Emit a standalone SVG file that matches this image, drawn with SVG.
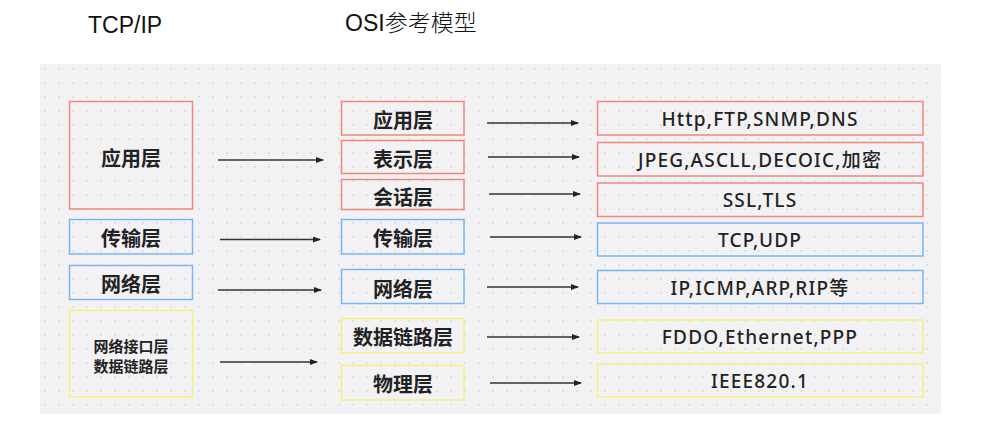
<svg xmlns="http://www.w3.org/2000/svg" width="1001" height="441" viewBox="0 0 1001 441">
  <defs>
    <pattern id="dots" x="40" y="64" width="14" height="14" patternUnits="userSpaceOnUse">
      <circle cx="5" cy="5" r="0.8" fill="#c9c9cf"/>
    </pattern>
    <marker id="arrow" viewBox="0 0 8 6" refX="7" refY="3" markerWidth="8" markerHeight="6" markerUnits="userSpaceOnUse" orient="auto">
      <path d="M0,0 L8,3 L0,6 Z" fill="#222"/>
    </marker>
  </defs>
  <style>
    .hdr { font-family: "Liberation Sans", "Noto Sans CJK SC", sans-serif; font-size: 23px; fill: #111; }
    .box { fill: none; stroke-width: 1.5; }
    .red { stroke: #f0877a; }
    .blue { stroke: #7ab6ee; }
    .yellow { stroke: #f7ee7c; }
    .lbl { font-family: "Noto Sans CJK SC", sans-serif; font-weight: 700; font-size: 20px; fill: #222; text-anchor: middle; dominant-baseline: central; }
    .small { font-size: 15px; }
    .proto { font-family: "Noto Sans", "Noto Sans CJK SC", sans-serif; font-weight: 500; font-size: 19px; letter-spacing: 1.2px; fill: #222; text-anchor: middle; dominant-baseline: central; }
    .conn line { stroke: #333; stroke-width: 1.4; marker-end: url(#arrow); }
  </style>

  <rect width="1001" height="441" fill="#ffffff"/>
  <!-- dotted canvas -->
  <rect x="40" y="64" width="901" height="350" fill="#f2f2f4"/>
  <rect x="40" y="64" width="901" height="350" fill="url(#dots)"/>

  <!-- column headers -->
  <text class="hdr" x="88" y="33">TCP/IP</text>
  <text class="hdr" x="345" y="31">OSI<tspan font-family="'Noto Sans CJK SC', sans-serif" font-weight="300">参考模型</tspan></text>

  <!-- TCP/IP model -->
  <g id="tcp-app">
    <rect class="box red" x="69.5" y="101.5" width="123" height="107.5"/>
    <text class="lbl" x="131" y="157">应用层</text>
  </g>
  <g id="tcp-transport">
    <rect class="box blue" x="69.5" y="219.5" width="123" height="34.5"/>
    <text class="lbl" x="131" y="237">传输层</text>
  </g>
  <g id="tcp-network">
    <rect class="box blue" x="69.5" y="265.5" width="123" height="34"/>
    <text class="lbl" x="131" y="283">网络层</text>
  </g>
  <g id="tcp-link">
    <rect class="box yellow" x="69.5" y="310.5" width="123" height="86.5"/>
    <text class="lbl small" x="131" y="345.5">网络接口层</text>
    <text class="lbl small" x="131" y="365.5">数据链路层</text>
  </g>

  <!-- OSI model -->
  <g id="osi-app">
    <rect class="box red" x="341.5" y="101.5" width="122.5" height="33.5"/>
    <text class="lbl" x="403" y="119">应用层</text>
  </g>
  <g id="osi-presentation">
    <rect class="box red" x="341.5" y="140.5" width="122.5" height="33"/>
    <text class="lbl" x="403" y="158">表示层</text>
  </g>
  <g id="osi-session">
    <rect class="box red" x="341.5" y="179.5" width="122.5" height="30"/>
    <text class="lbl" x="403" y="196">会话层</text>
  </g>
  <g id="osi-transport">
    <rect class="box blue" x="341.5" y="219.5" width="122.5" height="34.5"/>
    <text class="lbl" x="403" y="237">传输层</text>
  </g>
  <g id="osi-network">
    <rect class="box blue" x="341.5" y="269.5" width="122.5" height="34"/>
    <text class="lbl" x="403" y="288">网络层</text>
  </g>
  <g id="osi-datalink">
    <rect class="box yellow" x="341.5" y="318.5" width="122.5" height="34.5"/>
    <text class="lbl" x="403" y="336">数据链路层</text>
  </g>
  <g id="osi-physical">
    <rect class="box yellow" x="341.5" y="365.5" width="122.5" height="34.5"/>
    <text class="lbl" x="403" y="383">物理层</text>
  </g>

  <!-- protocols -->
  <g id="proto-app">
    <rect class="box red" x="597.5" y="101.5" width="325.5" height="33.5"/>
    <text class="proto" x="760" y="119">Http,FTP,SNMP,DNS</text>
  </g>
  <g id="proto-presentation">
    <rect class="box red" x="597.5" y="142.5" width="325.5" height="33.5"/>
    <text class="proto" x="760" y="160">JPEG,ASCLL,DECOIC,加密</text>
  </g>
  <g id="proto-session">
    <rect class="box red" x="597.5" y="183" width="325.5" height="33.5"/>
    <text class="proto" x="760" y="200">SSL,TLS</text>
  </g>
  <g id="proto-transport">
    <rect class="box blue" x="597.5" y="223" width="325.5" height="33"/>
    <text class="proto" x="760" y="240">TCP,UDP</text>
  </g>
  <g id="proto-network">
    <rect class="box blue" x="597.5" y="270.5" width="325.5" height="33"/>
    <text class="proto" x="760" y="288">IP,ICMP,ARP,RIP等</text>
  </g>
  <g id="proto-datalink">
    <rect class="box yellow" x="597.5" y="320" width="325.5" height="33"/>
    <text class="proto" x="760" y="337">FDDO,Ethernet,PPP</text>
  </g>
  <g id="proto-physical">
    <rect class="box yellow" x="597.5" y="364" width="325.5" height="33"/>
    <text class="proto" x="760" y="381">IEEE820.1</text>
  </g>

  <!-- connectors -->
  <g class="conn">
    <line x1="218" y1="160" x2="323" y2="160"/>
    <line x1="220" y1="239.5" x2="320" y2="239.5"/>
    <line x1="218" y1="290" x2="321" y2="290"/>
    <line x1="220" y1="362" x2="317" y2="362"/>
    <line x1="487" y1="123" x2="578" y2="123"/>
    <line x1="488" y1="157" x2="579" y2="157"/>
    <line x1="489" y1="194" x2="580" y2="194"/>
    <line x1="490" y1="237" x2="581" y2="237"/>
    <line x1="487" y1="287" x2="578" y2="287"/>
    <line x1="487" y1="337" x2="579" y2="337"/>
    <line x1="490" y1="383" x2="581" y2="383"/>
  </g>
</svg>
